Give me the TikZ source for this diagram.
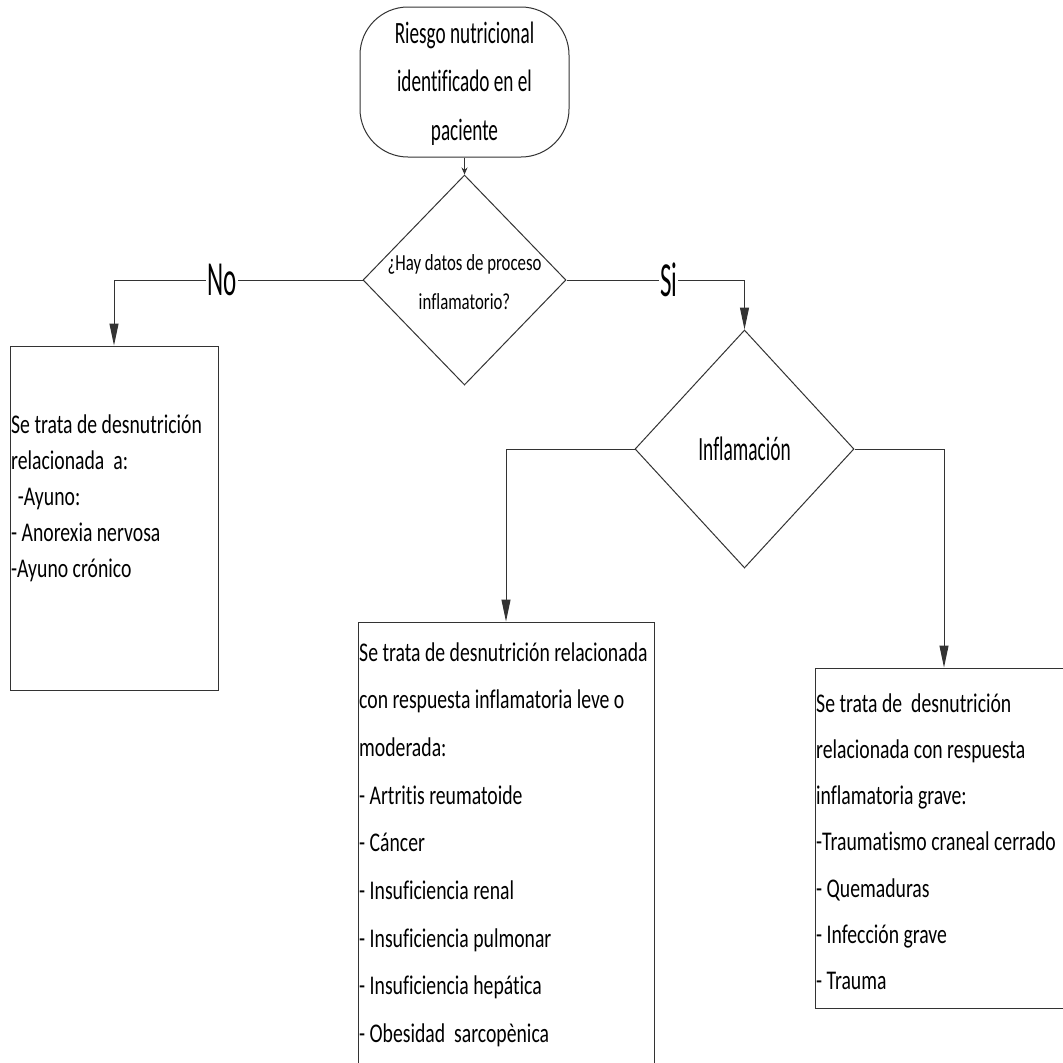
\documentclass[tikz,border=0pt]{standalone}
\usepackage{fontspec}
\setmainfont{Carlito}[Ligatures=CommonOff]
\newfontfamily\boxfnt{Carlito}[FakeStretch=0.73, Ligatures=CommonOff]
\newfontfamily\terfnt{Carlito}[FakeStretch=0.62, Ligatures=CommonOff]
\newfontfamily\inffnt{Carlito}[FakeStretch=0.57, Ligatures=CommonOff]
\newfontfamily\lblfnt{Carlito}[FakeStretch=0.51, Ligatures=CommonOff]
\usetikzlibrary{shapes.geometric,arrows.meta}
\tikzset{
  ln/.style={draw=black!80, line width=1pt},
  arr/.style={ln, -{Triangle[length=22pt,width=9pt]}},
  smallarr/.style={ln, -{Stealth[length=7pt,width=6pt]}},
  boxnode/.style={draw=black!80, line width=1pt, rectangle, inner sep=0pt},
  dia/.style={draw=black!80, line width=1pt, diamond, inner sep=0pt},
  lbl/.style={fill=white, inner sep=1pt, font=\lblfnt\fontsize{49}{49}\selectfont},
  boxtext/.style={anchor=base west, inner sep=0pt, text width=330pt, align=flush left},
  ctext/.style={anchor=base, inner sep=0pt, text width=300pt, align=flush center},
}
\begin{document}
\begin{tikzpicture}[x=1pt,y=-1pt]
\useasboundingbox (0,0) rectangle (1063,1063);
\fill[white] (0,0) rectangle (1063,1063);

% shapes
\node[boxnode, rounded corners=48pt, minimum width=209pt, minimum height=150pt] (term) at (464.5,82) {};
\node[dia, minimum width=203pt, minimum height=210pt] (d1) at (464.5,280) {};
\node[dia, minimum width=219pt, minimum height=238pt] (d2) at (744.5,449) {};
\node[boxnode, minimum width=208pt, minimum height=344pt] (b1) at (114,518) {};
\node[boxnode, minimum width=296pt, minimum height=450pt] (b2) at (506,847) {};
\node[boxnode, minimum width=258pt, minimum height=340pt] (b3) at (944,838) {};

% texts
\node[ctext, font=\terfnt\fontsize{31}{48.5}\selectfont] (tterm) at (464.5,43)
  {Riesgo nutricional\\identificado en el\\paciente};
\node[ctext, font=\boxfnt\fontsize{23}{39}\selectfont] (td1) at (464.5,270)
  {¿Hay datos de proceso\\inflamatorio?};
\node[anchor=base, inner sep=0pt, font=\inffnt\fontsize{34}{34}\selectfont] (td2) at (744.5,460) {Inflamación};

\node[boxtext, font=\boxfnt\fontsize{27}{36}\selectfont] (tb1) at (11,433)
  {Se trata de desnutrición\\relacionada\ \ a:\\\hspace*{0.25em}-Ayuno:\\- Anorexia nervosa\\-Ayuno crónico};
\node[boxtext, font=\boxfnt\fontsize{27}{47.7}\selectfont] (tb2) at (359,661)
  {Se trata de desnutrición relacionada\\con respuesta inflamatoria leve o\\moderada:\\- Artritis reumatoide\\- Cáncer\\- Insuficiencia renal\\- Insuficiencia pulmonar\\- Insuficiencia hepática\\- Obesidad\ \ sarcopènica};
\node[boxtext, font=\boxfnt\fontsize{27}{46.3}\selectfont] (tb3) at (816,712)
  {Se trata de\ \ desnutrición\\relacionada con respuesta\\inflamatoria grave:\\-Traumatismo craneal cerrado\\- Quemaduras\\- Infección grave\\- Trauma};

% connectors
\draw[smallarr] (term.south) -- (d1.north);
\draw[arr] (d1.west) -| node[lbl, pos=0.283] (lno) {No} (b1.north);
\draw[arr] (d1.east) -| node[lbl, pos=0.287] (lsi) {Si} (d2.north);
\draw[arr] (d2.west) -| (b2.north);
\draw[arr] (d2.east) -| (b3.north);
\end{tikzpicture}
\end{document}
